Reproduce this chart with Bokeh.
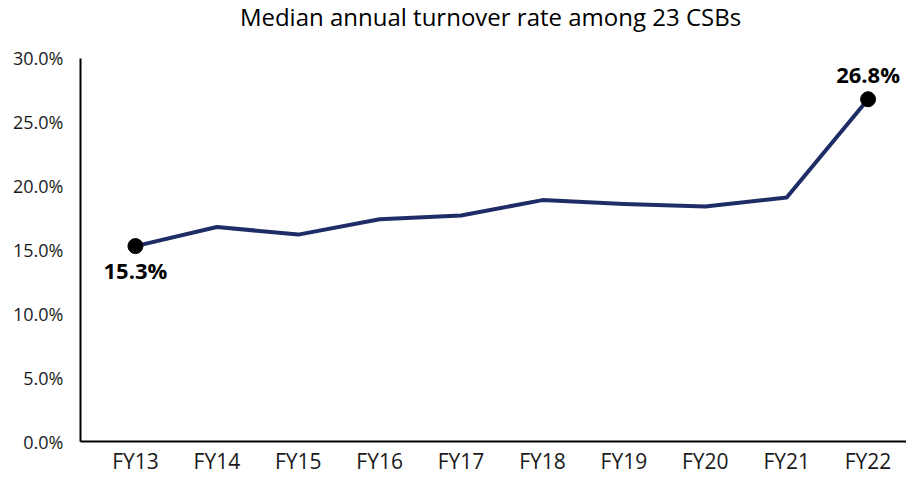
from bokeh.plotting import figure
from bokeh.models import ColumnDataSource, FixedTicker, NumeralTickFormatter, Range1d, LabelSet, Label
from bokeh.core.properties import value
from bokeh.embed import file_html
from bokeh.resources import INLINE

title_text = "Median annual turnover rate among 23 CSBs"
categories = ["FY13", "FY14", "FY15", "FY16", "FY17", "FY18", "FY19", "FY20", "FY21", "FY22"]
turnover = [0.153, 0.168, 0.162, 0.174, 0.177, 0.189, 0.186, 0.184, 0.191, 0.268]
y_ticks = [0.0, 0.05, 0.10, 0.15, 0.20, 0.25, 0.30]
highlight_idx = [0, 9]

xs = list(range(len(categories)))
src = ColumnDataSource(dict(x=xs, y=turnover))
hl = ColumnDataSource(dict(
    x=[xs[i] for i in highlight_idx],
    y=[turnover[i] for i in highlight_idx],
    txt=[f"{turnover[i]*100:.1f}%" for i in highlight_idx],
    dy=[-24, 25],
))

FONT = "Open Sans"

# frame spans the full height; the extra headroom above 30% holds the title
p = figure(width=906, height=477, output_backend="svg", toolbar_location=None,
           x_range=Range1d(-0.675, 9.472), y_range=Range1d(0, 0.3453),
           min_border_left=80, min_border_right=0, min_border_top=0, min_border_bottom=35)
p.outline_line_color = None
p.grid.grid_line_color = None

title = Label(x=410, y=425, x_units="screen", y_units="screen", text=title_text,
              text_align="center", text_baseline="middle",
              text_font=FONT, text_font_size="24px", text_color="#000000")
p.add_layout(title)

p.line("x", "y", source=src, line_color="#1F2D66", line_width=4, line_join="round")
p.scatter("x", "y", source=hl, size=15, fill_color="black", line_color="black")
labels = LabelSet(x="x", y="y", text="txt", source=hl, y_offset="dy",
                  text_align="center", text_baseline="middle",
                  text_font=value(FONT), text_font_size=value("22px"),
                  text_font_style=value("bold"), text_color="black")
p.add_layout(labels)

p.xaxis.ticker = FixedTicker(ticks=xs)
p.xaxis.major_label_overrides = {i: c for i, c in enumerate(categories)}
p.yaxis.ticker = FixedTicker(ticks=y_ticks)
p.yaxis.formatter = NumeralTickFormatter(format="0.0%")
p.yaxis.bounds = (0, 0.30)

for ax in (p.xaxis, p.yaxis):
    ax.axis_line_color = "black"
    ax.axis_line_width = 2
    ax.major_tick_line_color = None
    ax.minor_tick_line_color = None
    ax.major_tick_out = 0
    ax.major_tick_in = 0
    ax.major_label_text_font = FONT
    ax.major_label_text_color = "#1a1a1a"
p.xaxis.major_label_text_font_size = "21px"
p.yaxis.major_label_text_font_size = "18px"
p.xaxis.major_label_standoff = 5
p.yaxis.major_label_standoff = 17

open("out.html", "w").write(file_html(p, INLINE))
